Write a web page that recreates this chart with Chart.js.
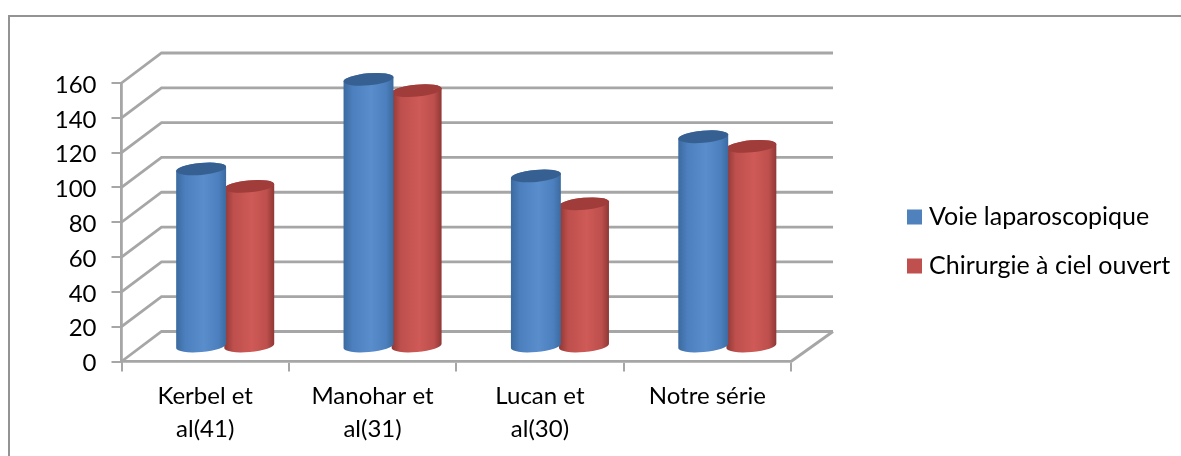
<!DOCTYPE html>
<html>
<head>
<meta charset="utf-8">
<style>
  html, body { margin: 0; background: #fff; }
  #wrap { width: 1181px; height: 456px; }
</style>
<script src="https://cdn.jsdelivr.net/npm/chart.js@4"></script>
</head>
<body>
<div id="wrap"><canvas id="chart"></canvas></div>
<script>
const categories = [['Kerbel et', 'al(41)'], ['Manohar et', 'al(31)'], ['Lucan et', 'al(30)'], 'Notre série'];
const voieLaparoscopique = [102, 153.5, 98, 120.5];
const chirurgieCielOuvert = [92, 147, 82, 115];

const BLUE = '#4f81bd';
const RED = '#c0504d';
const GRID = '#a6a6a6';

// depth of the fake 3D box
const DEPTH_X = 40;
const DEPTH_Y = -30;

function cylinder(ctx, cx, top, bottom, w, edge, mid, light, cap) {
  const rx = w / 2, ry = 6, tilt = -0.09;
  const g = ctx.createLinearGradient(cx - rx, 0, cx + rx, 0);
  g.addColorStop(0, edge);
  g.addColorStop(0.18, mid);
  g.addColorStop(0.55, light);
  g.addColorStop(0.85, mid);
  g.addColorStop(1, edge);
  ctx.fillStyle = g;
  ctx.beginPath();
  ctx.ellipse(cx, top, rx, ry, tilt, Math.PI, 0, false);
  ctx.ellipse(cx, bottom, rx, ry, tilt, 0, Math.PI, false);
  ctx.closePath();
  ctx.fill();
  ctx.fillStyle = cap;
  ctx.beginPath();
  ctx.ellipse(cx, top, rx, ry, tilt, 0, Math.PI * 2);
  ctx.fill();
}

const box3d = {
  id: 'box3d',
  beforeDraw(chart) {
    const { ctx, width, height } = chart;
    ctx.save();
    ctx.fillStyle = '#fff';
    ctx.fillRect(0, 0, width, height);
    // frame only shows on top and left, the rest is cut off
    ctx.strokeStyle = '#939393';
    ctx.lineWidth = 2;
    ctx.beginPath();
    ctx.moveTo(9, height);
    ctx.lineTo(9, 16);
    ctx.lineTo(width, 16);
    ctx.stroke();
    ctx.restore();
  },
  afterLayout(chart) {
    // legend sits outside the plot, well right of the box
    const lg = chart.legend;
    lg.left = 888.5;
    lg.right = 1181;
    lg.top = 180.5;
    lg.bottom = 420;
  },
  beforeDatasetsDraw(chart) {
    const { ctx, scales: { x, y } } = chart;
    ctx.save();
    ctx.strokeStyle = GRID;
    ctx.lineWidth = 2.8;
    y.ticks.forEach(t => {
      const p = y.getPixelForValue(t.value);
      ctx.beginPath();
      ctx.moveTo(x.left, p);
      ctx.lineTo(x.left + DEPTH_X, p + DEPTH_Y);
      ctx.lineTo(x.right + DEPTH_X + 2, p + DEPTH_Y);
      ctx.stroke();
    });
    ctx.beginPath();
    ctx.moveTo(x.right, y.bottom);
    ctx.lineTo(x.right + DEPTH_X + 2, y.bottom + DEPTH_Y);
    ctx.stroke();
    ctx.restore();
  },
  beforeDatasetDraw(chart, args) {
    const { ctx } = chart;
    const colors = args.index === 0
      ? ['#3b6a9f', '#4c7fbd', '#5a8dcc', '#376092']
      : ['#8e3735', '#bd4f4c', '#cf5a57', '#a03c3a'];
    ctx.save();
    args.meta.data.forEach(bar => {
      cylinder(ctx, bar.x + DEPTH_X / 2, bar.y + DEPTH_Y / 2, bar.base + DEPTH_Y / 2 + 0.5, bar.width + 2,
        colors[0], colors[1], colors[2], colors[3]);
    });
    ctx.restore();
    return false;
  }
};

new Chart(document.getElementById('chart'), {
  type: 'bar',
  data: {
    labels: categories,
    datasets: [
      { label: 'Voie laparoscopique', data: voieLaparoscopique, backgroundColor: BLUE, borderColor: BLUE, borderWidth: 11 },
      { label: 'Chirurgie à ciel ouvert', data: chirurgieCielOuvert, backgroundColor: RED, borderColor: RED, borderWidth: 11 }
    ]
  },
  plugins: [box3d],
  options: {
    responsive: true,
    maintainAspectRatio: false,
    animation: false,
    layout: { padding: { left: 0, right: 390, top: 83, bottom: 0 } },
    datasets: { bar: { categoryPercentage: 0.575, barPercentage: 1 } },
    scales: {
      x: {
        afterFit: s => { s.height = 94.5; },
        grid: { display: true, offset: true, drawOnChartArea: false, color: GRID, lineWidth: 2, tickLength: 10 },
        border: { color: GRID, width: 2.8 },
        ticks: { color: '#000', font: { family: 'Lato', size: 24, lineHeight: 1.38 }, maxRotation: 0, padding: 8 }
      },
      y: {
        min: 0,
        max: 160,
        afterFit: s => { s.width = 121.5; },
        grid: { drawOnChartArea: false, color: GRID, lineWidth: 2, tickLength: 10 },
        border: { color: GRID, width: 2.8 },
        ticks: { stepSize: 20, color: '#000', font: { family: 'Lato', size: 24 }, padding: 15, labelOffset: 2 }
      }
    },
    plugins: {
      tooltip: { enabled: false },
      title: { display: false },
      legend: {
        position: 'chartArea',
        align: 'start',
        labels: { boxWidth: 4, boxHeight: 4, padding: 24, color: '#000', font: { family: 'Lato', size: 25 } }
      }
    }
  }
});
</script>
</body>
</html>
